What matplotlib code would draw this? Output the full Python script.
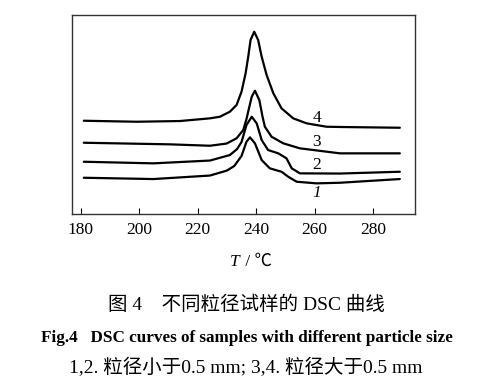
import matplotlib.pyplot as plt

plt.rcParams['font.family'] = ['Liberation Serif', 'Noto Sans CJK SC', 'DejaVu Sans']

# DSC curves (temperature in deg C, signal in arbitrary units)
t4 = [181.0, 199.1, 213.9, 224.2, 227.6, 231.0, 233.3, 235.0, 236.4, 237.3, 238.1, 239.35,
      240.7, 241.9, 243.6, 245.9, 248.7, 252.7, 257.3, 264.1, 270, 289.2]
s4 = [93.3, 92.3, 93.0, 95.7, 97.3, 102.3, 109, 122.3, 140.7, 157.3, 174, 182.3,
      174, 157.3, 139, 120.7, 105.7, 95.7, 90.7, 87.3, 87, 86.3]

t3 = [181.0, 210.5, 224.2, 229.9, 233.3, 235.6, 236.7, 237.5, 238.5, 239.6, 241.1, 242.2, 243.0,
      245.3, 249.3, 255.0, 268.7, 289.2]
s3 = [71.3, 69.7, 68.3, 70.5, 75.7, 84, 95, 105, 117.3, 123.3, 114, 97.3, 87.3,
      77.3, 70.7, 65.7, 60.7, 60.7]

t2 = [181.0, 204.8, 224.2, 231.0, 233.5, 235.0, 236.7, 238.5, 240.2, 241.9, 244.1, 247.6, 250.4,
      252.2, 255.0, 268.7, 289.2]
s2 = [52.3, 50.7, 53.5, 59, 65, 72, 89, 97.3, 90.7, 74, 64, 60.7, 55.7,
      45.7, 40.7, 40.5, 42.3]

t1 = [181.0, 204.8, 224.2, 230.0, 232.5, 235.0, 236.7, 237.9, 239.6, 241.9, 244.7, 248.7, 251.0,
      253.9, 260.7, 268.7, 289.2]
s1 = [36.3, 35, 38.5, 43.5, 48, 58, 72.3, 76.7, 70.7, 54, 45.7, 42.3, 37.3,
      32.3, 30.7, 31.3, 35]

curve_labels = ['1', '2', '3', '4']
label_t = [260.7, 260.7, 260.7, 260.7]
label_s = [20.7, 49, 72.3, 95.7]

xticks = [180, 200, 220, 240, 260, 280]

fig = plt.figure(figsize=(4.82, 3.85), dpi=100)
ax = fig.add_axes([0.149, 0.444, 0.712, 0.517])

for t, s in [(t1, s1), (t2, s2), (t3, s3), (t4, s4)]:
    ax.plot(t, s, color='black', lw=1.6, solid_joinstyle='round', solid_capstyle='round')

for lab, x, y in zip(curve_labels, label_t, label_s):
    ax.text(x, y, lab, fontsize=12.5, ha='center', va='center',
            style='italic' if lab == '1' else 'normal')

ax.set_xlim(176.9, 294.4)
ax.set_ylim(0, 199)
ax.set_xticks(xticks)
ax.set_yticks([])
ax.tick_params(axis='x', direction='in', length=4, labelsize=12.5, pad=6)
for sp in ax.spines.values():
    sp.set_linewidth(1.0)
    sp.set_color('#333333')

# axis title: italic T, upright unit
fig.text(0.497, 1 - 262 / 385, 'T', ha='right', va='center', fontsize=12.5, style='italic')
fig.text(0.500, 1 - 262 / 385, ' / ℃', ha='left', va='center', fontsize=12.5)

fig.text(0.512, 1 - 305 / 385, '图 4　不同粒径试样的 DSC 曲线', ha='center', va='center',
         fontsize=14)
fig.text(0.513, 1 - 338 / 385, 'Fig.4   DSC curves of samples with different particle size',
         ha='center', va='center', fontsize=12.3, fontweight='bold')
fig.text(0.51, 1 - 368 / 385, '1,2. 粒径小于0.5 mm; 3,4. 粒径大于0.5 mm',
         ha='center', va='center', fontsize=14)

fig.savefig('out.png', dpi=100)
